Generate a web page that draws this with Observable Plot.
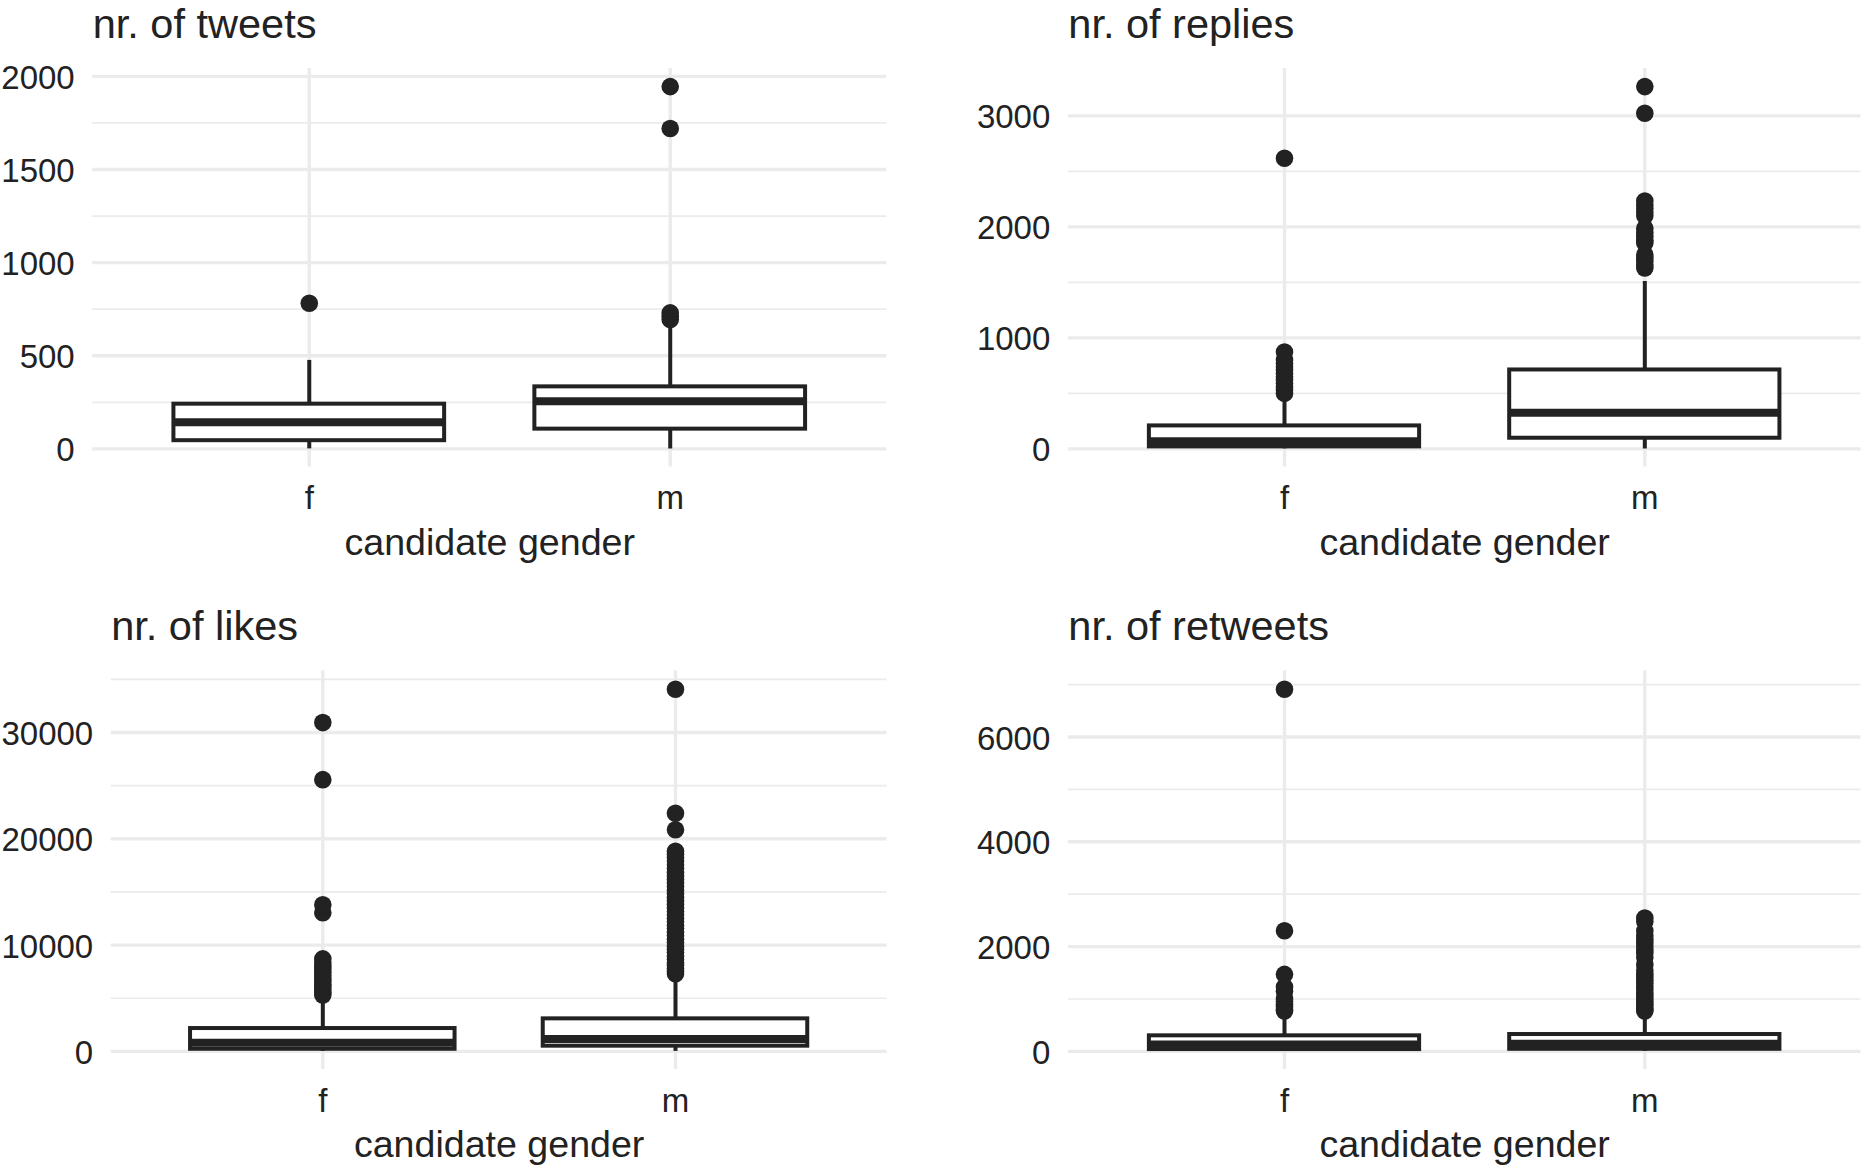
<!DOCTYPE html>
<html>
<head>
<meta charset="utf-8">
<script src="https://cdn.jsdelivr.net/npm/d3@7"></script>
<script src="https://cdn.jsdelivr.net/npm/@observablehq/plot@0.6"></script>
<style>
  html, body { margin: 0; padding: 0; background: #fff; }
  #chart { position: relative; width: 1862px; height: 1171px; overflow: hidden; background: #fff; }
  #chart > svg { position: absolute; }
</style>
</head>
<body>
<div id="chart"></div>
<script>
const genders = ["f", "m"];
const xLabel = "candidate gender";

// Each stats row: [lower whisker, q1, median, q3, upper whisker]; rows are f, m
const tweetsStats = [[0, 44, 143, 240, 475], [0, 106, 256, 333, 690]];
const tweetsOutliersF = [782];
const tweetsOutliersM = [695, 712, 730, 1720, 1945];
const tweetsTicks = [0, 500, 1000, 1500, 2000];
const tweetsMinor = [250, 750, 1250, 1750];

const repliesStats = [[0, 18, 68, 207, 420], [0, 96, 325, 711, 1509]];
const repliesOutliersF = [500, 530, 560, 590, 620, 650, 680, 710, 740, 770, 800, 873, 2619];
const repliesOutliersM = [1630, 1660, 1690, 1720, 1750, 1855, 1880, 1915, 1950, 1985,
                          2100, 2130, 2165, 2200, 2234, 3024, 3264];
const repliesTicks = [0, 1000, 2000, 3000];
const repliesMinor = [500, 1500, 2500];

const likesStats = [[0, 200, 820, 2150, 4800], [0, 490, 1177, 3060, 7000]];
const likesOutliersF = [5300, 5550, 5800, 6050, 6300, 6600, 6850, 7150, 7450, 7750, 8050, 8350, 8700,
                        13050, 13800, 25560, 30930];
const likesOutliersM = [7300, 7550, 7800, 8100, 8350, 8650, 8950, 9300, 9600, 9900, 10250, 10550,
                        10900, 11200, 11550, 11850, 12200, 12500, 12850, 13150, 13500, 13850, 14150,
                        14500, 14850, 15150, 15500, 15850, 16200, 16500, 16850, 17200, 17550, 17900,
                        18250, 18550, 18830, 20850, 22400, 34070];
const likesTicks = [0, 10000, 20000, 30000];
const likesMinor = [5000, 15000, 25000, 35000];

const retweetsStats = [[0, 35, 130, 297, 700], [0, 40, 145, 322, 700]];
const retweetsOutliersF = [770, 800, 850, 900, 950, 1000, 1150, 1230, 1470, 2303, 6912];
const retweetsOutliersM = [770, 800, 850, 900, 950, 1000, 1060, 1120, 1180, 1240, 1300, 1360, 1420,
                           1480, 1545, 1650, 1790, 1878, 1940, 2000, 2070, 2140, 2211, 2300, 2480, 2545];
const retweetsTicks = [0, 2000, 4000, 6000];
const retweetsMinor = [1000, 3000, 5000, 7000];

const ink = "#222222";
const gridColor = "#ebebeb";
const font = "'Liberation Sans', Arial, Helvetica, sans-serif";

function boxPanel({title, stats, outF, outM, ticks, minor, left, top, width, height, margin}) {
  const rows = genders.map((g, i) => ({
    gender: g, low: stats[i][0], q1: stats[i][1], median: stats[i][2], q3: stats[i][3], high: stats[i][4]
  }));
  const outliers = [
    ...outF.map(v => ({gender: "f", value: v})),
    ...outM.map(v => ({gender: "m", value: v}))
  ];
  const values = [...rows.flatMap(d => [d.low, d.high]), ...outliers.map(d => d.value)];
  const lo = d3.min(values), hi = d3.max(values);
  const pad = (hi - lo) * 0.05;

  const svg = Plot.plot({
    width, height,
    marginTop: margin[0], marginRight: margin[1], marginBottom: margin[2], marginLeft: margin[3],
    style: {fontFamily: font, color: ink, background: "transparent", overflow: "visible"},
    x: {domain: genders, paddingInner: 0.25, paddingOuter: 0.225, round: false},
    y: {domain: [lo - pad, hi + pad]},
    marks: [
      Plot.gridY(minor, {stroke: gridColor, strokeOpacity: 1, strokeWidth: 1.7}),
      Plot.gridY(ticks, {stroke: gridColor, strokeOpacity: 1, strokeWidth: 3.4}),
      Plot.gridX({stroke: gridColor, strokeOpacity: 1, strokeWidth: 3.4}),
      Plot.axisY({ticks, tickSize: 0, tickPadding: 18, fontSize: 33, tickFormat: "d", label: null, dy: 2}),
      Plot.axisX({tickSize: 0, tickPadding: 19, fontSize: 33, label: null}),
      Plot.dot(outliers, {x: "gender", y: "value", r: 8.8, fill: ink}),
      Plot.ruleX(rows, {x: "gender", y1: "low", y2: "high", stroke: ink, strokeWidth: 4}),
      Plot.barY(rows, {x: "gender", y1: "q1", y2: "q3", fill: "white", stroke: ink, strokeWidth: 4}),
      Plot.tickY(rows, {x: "gender", y: "median", stroke: ink, strokeWidth: 8}),
      Plot.text([title], {text: d => d, frameAnchor: "top-left", textAnchor: "start", lineAnchor: "bottom",
                          dy: -31, fontSize: 41.5, fill: ink}),
      Plot.text([xLabel], {text: d => d, frameAnchor: "bottom", textAnchor: "middle", lineAnchor: "bottom",
                           dy: 87.5, fontSize: 37.6, fill: ink})
    ]
  });
  svg.style.left = left + "px";
  svg.style.top = top + "px";
  return svg;
}

const chart = document.getElementById("chart");

chart.append(boxPanel({
  title: "nr. of tweets", stats: tweetsStats, outF: tweetsOutliersF, outM: tweetsOutliersM,
  ticks: tweetsTicks, minor: tweetsMinor,
  left: 0, top: 0, width: 931, height: 585, margin: [68, 44.7, 118.5, 92.2]
}));

chart.append(boxPanel({
  title: "nr. of replies", stats: repliesStats, outF: repliesOutliersF, outM: repliesOutliersM,
  ticks: repliesTicks, minor: repliesMinor,
  left: 931, top: 0, width: 931, height: 585, margin: [68, 1.5, 118.5, 136.8]
}));

chart.append(boxPanel({
  title: "nr. of likes", stats: likesStats, outF: likesOutliersF, outM: likesOutliersM,
  ticks: likesTicks, minor: likesMinor,
  left: 0, top: 585, width: 931, height: 586, margin: [85.6, 44.4, 102, 110.7]
}));

chart.append(boxPanel({
  title: "nr. of retweets", stats: retweetsStats, outF: retweetsOutliersF, outM: retweetsOutliersM,
  ticks: retweetsTicks, minor: retweetsMinor,
  left: 931, top: 585, width: 931, height: 586, margin: [85.6, 1.5, 102, 136.8]
}));
</script>
</body>
</html>
